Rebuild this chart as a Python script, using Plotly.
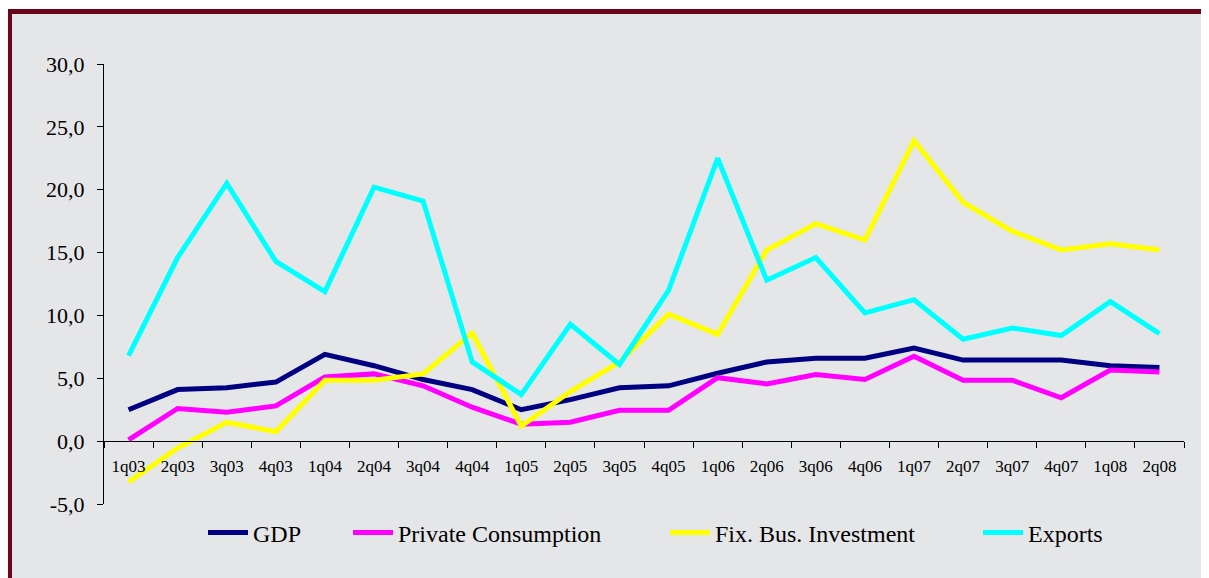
import plotly.graph_objects as go

quarters = ["1q03","2q03","3q03","4q03","1q04","2q04","3q04","4q04","1q05","2q05","3q05",
            "4q05","1q06","2q06","3q06","4q06","1q07","2q07","3q07","4q07","1q08","2q08"]
gdp = [2.5, 4.1, 4.25, 4.7, 6.9, 6.0, 4.9, 4.1, 2.5, 3.3, 4.25,
       4.4, 5.4, 6.3, 6.6, 6.6, 7.4, 6.45, 6.45, 6.45, 6.0, 5.85]
private_cons = [0.1, 2.6, 2.3, 2.8, 5.1, 5.35, 4.4, 2.7, 1.35, 1.5, 2.45,
                2.45, 5.05, 4.55, 5.3, 4.9, 6.75, 4.85, 4.85, 3.45, 5.65, 5.5]
fix_bus_inv = [-3.25, -0.55, 1.5, 0.75, 4.85, 4.85, 5.35, 8.6, 1.2, 3.95, 6.3,
               10.1, 8.5, 15.2, 17.3, 16.0, 23.9, 19.0, 16.7, 15.2, 15.7, 15.2]
exports = [6.8, 14.6, 20.5, 14.3, 11.9, 20.2, 19.1, 6.3, 3.7, 9.3, 6.1,
           12.0, 22.5, 12.8, 14.6, 10.2, 11.25, 8.1, 9.0, 8.4, 11.1, 8.55]
y_ticks = [-5, 0, 5, 10, 15, 20, 25, 30]
y_tick_labels = ["-5,0", "0,0", "5,0", "10,0", "15,0", "20,0", "25,0", "30,0"]

series = [("GDP", gdp, "#000080"),
          ("Private Consumption", private_cons, "#FF00FF"),
          ("Fix. Bus. Investment", fix_bus_inv, "#FFFF00"),
          ("Exports", exports, "#00FFFF")]

# page body has an 8px margin; work in screen pixels and shift
OFF = 8
W, H = 1209 - OFF, 578 - OFF
L, R, T, B = 104 - OFF, 1184 - OFF, 64 - OFF, 504 - OFF

serif = "Liberation Serif, Times New Roman, DejaVu Serif, serif"
ymin, ymax = -5, 30

def px_x(p):
    return (p - OFF - L) / (R - L)

def px_y(p):
    return (B - (p - OFF)) / (B - T)

legend_x = [203, 348, 665, 978]
legend_names = ["legend", "legend2", "legend3", "legend4"]

fig = go.Figure()
for (name, vals, col), lg in zip(series, legend_names):
    fig.add_trace(go.Scatter(x=quarters, y=vals, name=name, mode="lines",
                             line=dict(color=col, width=5), legend=lg))

layout_legends = {}
for lg, lx in zip(legend_names, legend_x):
    layout_legends[lg] = dict(orientation="h", x=px_x(lx), xanchor="left",
                              y=px_y(533), yanchor="middle",
                              font=dict(size=24, family=serif, color="black"),
                              bgcolor="rgba(0,0,0,0)", itemwidth=40)

fig.update_layout(
    width=W, height=H,
    margin=dict(l=L, r=W - R, t=T, b=H - B, pad=0),
    paper_bgcolor="white",
    plot_bgcolor="rgba(0,0,0,0)",
    font=dict(family=serif, color="black"),
    showlegend=True,
    xaxis=dict(type="category", range=[-0.5, len(quarters) - 0.5],
               anchor="free", position=(0 - ymin) / (ymax - ymin),
               showline=True, linecolor="black", linewidth=1,
               ticks="outside", ticklen=6, tickcolor="black", tickson="boundaries",
               showgrid=False, zeroline=False, ticklabelstandoff=9,
               tickfont=dict(size=17, family=serif, color="black")),
    yaxis=dict(range=[ymin, ymax], tickvals=y_ticks, ticktext=y_tick_labels,
               showline=True, linecolor="black", linewidth=1,
               ticks="outside", ticklen=6, tickcolor="black",
               showgrid=False, zeroline=False, ticklabelstandoff=8,
               tickfont=dict(size=22, family=serif, color="black")),
    shapes=[dict(type="rect", xref="paper", yref="paper", layer="below",
                 x0=px_x(9.5), x1=px_x(1240), y0=px_y(600), y1=px_y(11.5),
                 fillcolor="#E5E6E8", line=dict(color="#6B0519", width=5))],
    **layout_legends,
)

fig.write_html("out.html")
